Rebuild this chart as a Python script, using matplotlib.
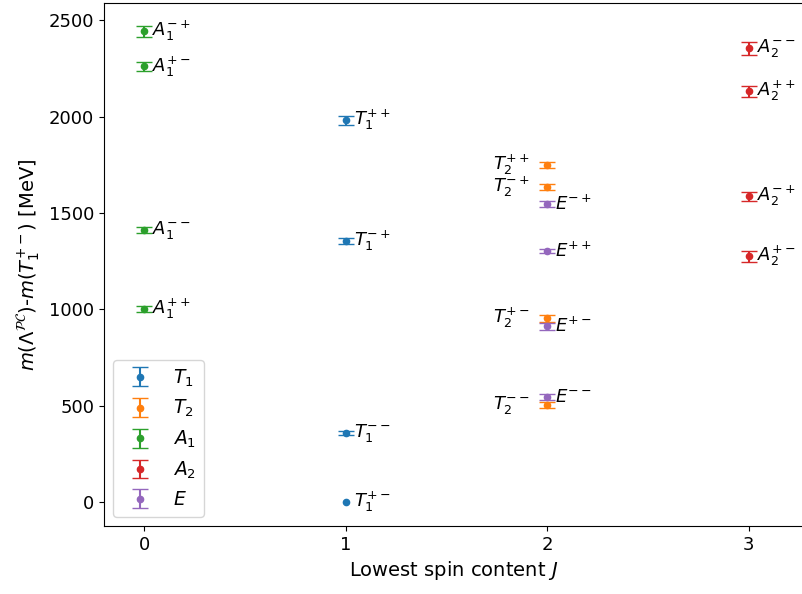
import numpy as np
import matplotlib.pyplot as plt

plt.rcParams['font.size'] = 14
plt.rcParams['xtick.labelsize'] = 13
plt.rcParams['ytick.labelsize'] = 13

# lowest spin content J, mass difference (MeV), error, PC quantum numbers
T1_J = [1, 1, 1, 1]
T1_m = [1981, 1354, 358, 0]
T1_err = [22, 14, 12, np.nan]  # reference state, no error
T1_pc = ['++', '-+', '--', '+-']

T2_J = [2, 2, 2, 2]
T2_m = [1748, 1634, 954, 503]
T2_err = [15, 15, 18, 14]
T2_pc = ['++', '-+', '+-', '--']

A1_J = [0, 0, 0, 0]
A1_m = [2443, 2261, 1411, 1001]
A1_err = [30, 25, 15, 14]
A1_pc = ['-+', '+-', '--', '++']

A2_J = [3, 3, 3, 3]
A2_m = [2355, 2132, 1587, 1276]
A2_err = [35, 28, 24, 28]
A2_pc = ['--', '++', '-+', '+-']

E_J = [2, 2, 2, 2]
E_m = [1546, 1302, 913, 545]
E_err = [14, 12, 18, 16]
E_pc = ['-+', '++', '+-', '--']

groups = [
    ('T_1', T1_J, T1_m, T1_err, T1_pc, 'C0', 'right'),
    ('T_2', T2_J, T2_m, T2_err, T2_pc, 'C1', 'left'),
    ('A_1', A1_J, A1_m, A1_err, A1_pc, 'C2', 'right'),
    ('A_2', A2_J, A2_m, A2_err, A2_pc, 'C3', 'right'),
    ('E', E_J, E_m, E_err, E_pc, 'C4', 'right'),
]

fig = plt.figure(figsize=(8.03, 5.94), dpi=100)
ax = fig.add_axes([104 / 803, 1 - 526 / 594, 699 / 803, 523 / 594])

for name, J, m, err, pc, col, side in groups:
    ax.errorbar(J, m, yerr=err, fmt='o', color=col, markersize=4.5,
                capsize=6, label='$%s$' % name)
    for j, y, s in zip(J, m, pc):
        lab = '$%s^{%s}$' % (name, s)
        if side == 'right':
            ax.text(j + 0.04, y, lab, ha='left', va='center', fontsize=13)
        else:
            ax.text(j - 0.09, y, lab, ha='right', va='center', fontsize=13)

ax.set_xlim(-0.2, 3.27)
ax.set_ylim(-125, 2590)
ax.set_xticks([0, 1, 2, 3])
ax.set_xlabel('Lowest spin content $J$')
ax.set_ylabel(r'$m(\Lambda^{\mathcal{PC}})$-$m(T_1^{+-})$ [MeV]')
ax.legend(loc='lower left', fontsize=13.5)

plt.savefig('out.png', dpi=100)
